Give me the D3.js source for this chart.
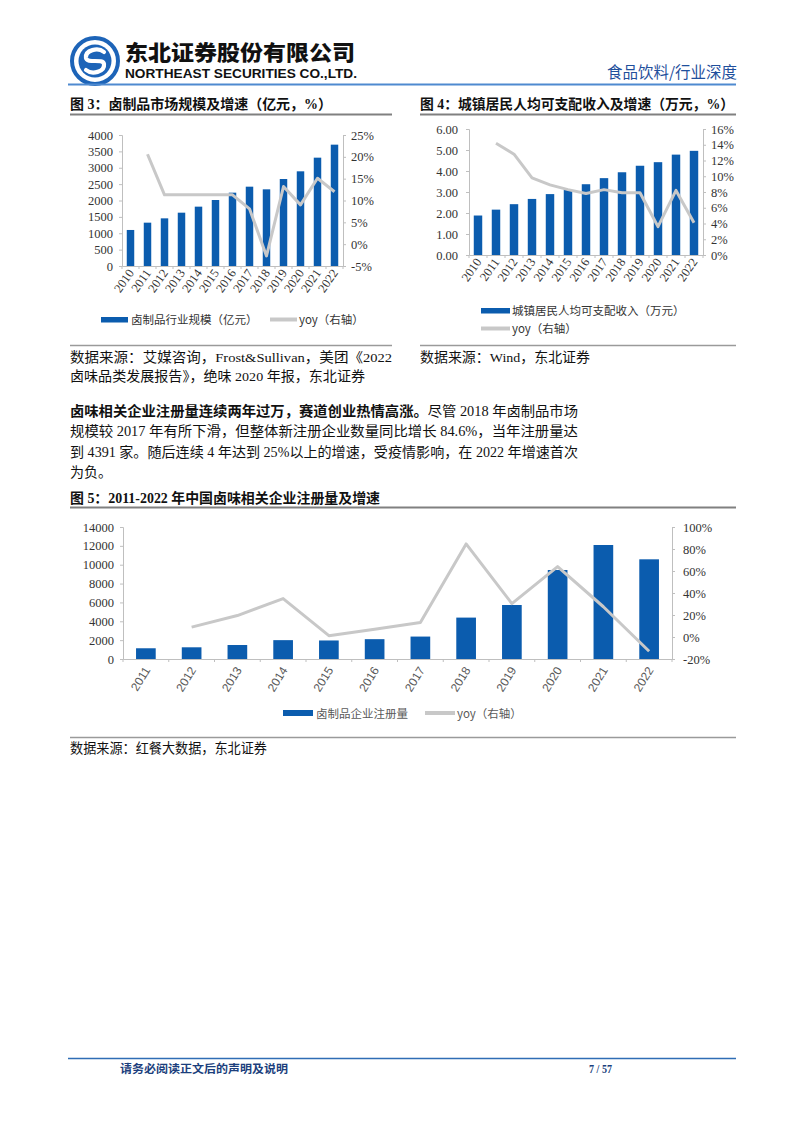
<!DOCTYPE html>
<html><head><meta charset="utf-8">
<script src="https://cdn.jsdelivr.net/npm/d3@7"></script>
<style>
html,body{margin:0;padding:0;background:#fff;}
svg{display:block;}
</style></head>
<body>
<svg id="page" width="802" height="1133"></svg>
<script>
// ---------- DATA ----------
const years3 = ["2010","2011","2012","2013","2014","2015","2016","2017","2018","2019","2020","2021","2022"];
const scale3 = [1100, 1323, 1455, 1628, 1812, 2015, 2239, 2422, 2341, 2656, 2891, 3308, 3705];
const yoy3 = [null, 20.6, 11.3, 11.3, 11.3, 11.3, 11.3, 8.1, -2.7, 13.2, 9.0, 15.1, 12.0];
const leftTicks3 = [0,500,1000,1500,2000,2500,3000,3500,4000];
const rightTicks3 = [-5,0,5,10,15,20,25];

const years4 = ["2010","2011","2012","2013","2014","2015","2016","2017","2018","2019","2020","2021","2022"];
const income4 = [1.88, 2.16, 2.42, 2.67, 2.90, 3.11, 3.37, 3.66, 3.94, 4.25, 4.42, 4.78, 4.96];
const yoy4 = [null, 14.2, 12.8, 9.8, 8.9, 8.3, 7.8, 8.3, 7.9, 7.9, 3.6, 8.2, 4.1];
const leftTicks4 = [0,1,2,3,4,5,6];
const rightTicks4 = [0,2,4,6,8,10,12,14,16];

const years5 = ["2011","2012","2013","2014","2015","2016","2017","2018","2019","2020","2021","2022"];
const reg5 = [1138, 1241, 1483, 2000, 1966, 2103, 2379, 4391, 5727, 9440, 12091, 10573];
const yoy5 = [null, 9.0, 19.5, 34.9, 1.2, 7.0, 13.1, 84.6, 30.4, 64.0, 27.5, -13.0];
const leftTicks5 = [0,2000,4000,6000,8000,10000,12000,14000];
const rightTicks5 = [-20,0,20,40,60,80,100];

// ---------- STYLE ----------
const BLUE = "#0b5cae";
const GRAY_LINE = "#c8c8c8";
const AXIS = "#bfbfbf";
const SERIF = "'Liberation Serif','Noto Sans CJK SC',serif";
const CJK = "'Noto Sans CJK SC','Liberation Serif',sans-serif";
const SANS = "'Liberation Sans','Noto Sans CJK SC',sans-serif";

const svg = d3.select("#page");

// ---------- HEADER ----------
const logo = svg.append("g").attr("transform","translate(95,61)");
logo.append("circle").attr("r",23).attr("fill","none").attr("stroke","#1d64b8").attr("stroke-width",4);
logo.append("circle").attr("r",16.5).attr("fill","#1d64b8");
logo.append("path")
  .attr("d","M9,-9 C3,-14 -10,-11 -9,-3 C-8,3 8,-3 9,3 C10,11 -3,14 -9,9")
  .attr("fill","none").attr("stroke","#fff").attr("stroke-width",4.2).attr("stroke-linecap","round");
svg.append("text").attr("x",125).attr("y",60).attr("font-family",CJK).attr("font-weight",900)
  .attr("font-size",21).attr("fill","#111").attr("textLength",230).attr("lengthAdjust","spacingAndGlyphs")
  .text("东北证券股份有限公司");
svg.append("text").attr("x",125).attr("y",78).attr("font-family",SANS).attr("font-weight",700)
  .attr("font-size",12).attr("fill","#111").attr("textLength",232).attr("lengthAdjust","spacingAndGlyphs")
  .text("NORTHEAST SECURITIES CO.,LTD.");
svg.append("text").attr("x",607).attr("y",78).attr("font-family",CJK).attr("font-size",15.5)
  .attr("fill","#1f4f9c").attr("textLength",130).attr("lengthAdjust","spacingAndGlyphs")
  .text("食品饮料/行业深度");
svg.append("line").attr("x1",68).attr("x2",736).attr("y1",84.5).attr("y2",84.5)
  .attr("stroke","#4f8ad0").attr("stroke-width",2);

// ---------- helpers ----------
function title(x, y, txt, w, lineX2, lineY){
  svg.append("text").attr("x",x).attr("y",y).attr("font-family",SERIF).attr("font-weight",700)
    .attr("font-size",14).attr("fill","#111").attr("textLength",w).attr("lengthAdjust","spacingAndGlyphs").text(txt);
  svg.append("line").attr("x1",x).attr("x2",lineX2).attr("y1",lineY).attr("y2",lineY)
    .attr("stroke","#808080").attr("stroke-width",2);
}
function sepLine(x1,x2,y){
  svg.append("line").attr("x1",x1).attr("x2",x2).attr("y1",y).attr("y2",y)
    .attr("stroke","#9a9a9a").attr("stroke-width",1.5);
}
function plainText(x,y,txt,size,w,opts={}){
  const t = svg.append("text").attr("x",x).attr("y",y).attr("font-family",opts.family||SERIF)
    .attr("font-size",size).attr("fill",opts.fill||"#111").text(txt);
  if (opts.weight) t.attr("font-weight",opts.weight);
  if (w) t.attr("textLength",w).attr("lengthAdjust","spacingAndGlyphs");
  return t;
}

function combo(cfg){
  const g = svg.append("g");
  const x = d3.scaleBand().domain(cfg.cats).range([cfg.x0, cfg.x1]).paddingInner(cfg.pad).paddingOuter(cfg.pad/2);
  const xb = d3.scaleBand().domain(cfg.cats).range([cfg.x0, cfg.x1]);
  const yL = d3.scaleLinear().domain(cfg.lDomain).range([cfg.y0, cfg.y1]);
  const yR = d3.scaleLinear().domain(cfg.rDomain).range([cfg.y0, cfg.y1]);

  g.selectAll("rect.bar").data(cfg.bars).join("rect").attr("class","bar")
    .attr("x",(d,i)=>x(cfg.cats[i])).attr("width",x.bandwidth())
    .attr("y",d=>yL(d)).attr("height",d=>yL(cfg.lDomain[0])-yL(d)).attr("fill",BLUE);

  const la = d3.axisLeft(yL).tickValues(cfg.lTicks).tickFormat(cfg.lFmt).tickSize(cfg.tickLen).tickPadding(cfg.lPad);
  const lg = g.append("g").attr("transform",`translate(${cfg.x0},0)`).call(la);
  const ra = d3.axisRight(yR).tickValues(cfg.rTicks).tickFormat(cfg.rFmt).tickSize(cfg.tickLen).tickPadding(cfg.rPad);
  const rg = g.append("g").attr("transform",`translate(${cfg.x1},0)`).call(ra);
  const xa = d3.axisBottom(xb).tickSize(0).tickFormat("");
  const xg = g.append("g").attr("transform",`translate(0,${cfg.y0})`).call(xa);
  [lg,rg,xg].forEach(a=>{
    a.select(".domain").attr("stroke",AXIS).attr("stroke-width",1);
    a.selectAll(".tick line").attr("stroke",AXIS);
    a.selectAll(".tick text").attr("font-family",SERIF).attr("font-size",cfg.fs).attr("fill","#333");
  });
  g.selectAll("line.xt").data(cfg.cats.concat(["__end"])).join("line").attr("class","xt")
    .attr("x1",(d,i)=> i<cfg.cats.length ? xb(d) : cfg.x1).attr("x2",(d,i)=> i<cfg.cats.length ? xb(d) : cfg.x1)
    .attr("y1",cfg.y0).attr("y2",cfg.y0+3).attr("stroke",AXIS);
  g.selectAll("text.xl").data(cfg.cats).join("text").attr("class","xl")
    .attr("transform",d=>`translate(${xb(d)+xb.bandwidth()/2+cfg.xlDx},${cfg.y0+cfg.xlDy}) rotate(${cfg.rot})`)
    .attr("text-anchor","end").attr("font-family",cfg.xlFamily).attr("font-size",cfg.xlFs)
    .attr("fill",cfg.xlFill).text(d=>d);

  const line = d3.line().defined(d=>d.v!==null)
    .x(d=>xb(d.c)+xb.bandwidth()/2).y(d=>yR(d.v));
  g.append("path").datum(cfg.line.map((v,i)=>({c:cfg.cats[i],v})))
    .attr("d",line).attr("fill","none").attr("stroke",GRAY_LINE).attr("stroke-width",3)
    .attr("stroke-linejoin","round");
  return g;
}

// ---------- FIGURE 3 ----------
title(70,109,"图 3：卤制品市场规模及增速（亿元，%）",262,392,114.5);
combo({cats:years3, bars:scale3, line:yoy3, x0:122, x1:343, y0:266, y1:135,
  lDomain:[0,4000], rDomain:[-5,25], lTicks:leftTicks3, rTicks:rightTicks3,
  lFmt:d=>d, rFmt:d=>d+"%", pad:0.56, tickLen:3, lPad:6, rPad:5, fs:12.5,
  rot:-55, xlDx:4, xlDy:7, xlFamily:SERIF, xlFs:12.5, xlFill:"#333"});
svg.append("rect").attr("x",101).attr("y",317).attr("width",27).attr("height",5.5).attr("fill",BLUE);
plainText(131,324,"卤制品行业规模（亿元）",11.5,null,{family:CJK,fill:"#333"});
svg.append("line").attr("x1",270).attr("x2",297).attr("y1",319.5).attr("y2",319.5).attr("stroke",GRAY_LINE).attr("stroke-width",4);
plainText(299,324,"yoy（右轴）",11.5,null,{family:CJK,fill:"#333"});

// ---------- FIGURE 4 ----------
title(420,109,"图 4：城镇居民人均可支配收入及增速（万元，%）",314,736,114.5);
combo({cats:years4, bars:income4, line:yoy4, x0:469, x1:703, y0:255, y1:129,
  lDomain:[0,6], rDomain:[0,16], lTicks:leftTicks4, rTicks:rightTicks4,
  lFmt:d=>d.toFixed(2), rFmt:d=>d+"%", pad:0.53, tickLen:3, lPad:8, rPad:5, fs:12.5,
  rot:-55, xlDx:4, xlDy:7, xlFamily:SERIF, xlFs:12.5, xlFill:"#333"});
svg.append("rect").attr("x",481).attr("y",308).attr("width",29).attr("height",5.5).attr("fill",BLUE);
plainText(512,315,"城镇居民人均可支配收入（万元）",11.5,null,{family:CJK,fill:"#333"});
svg.append("line").attr("x1",481).attr("x2",510).attr("y1",328.5).attr("y2",328.5).attr("stroke",GRAY_LINE).attr("stroke-width",4);
plainText(512,333,"yoy（右轴）",11.5,null,{family:CJK,fill:"#333"});

// ---------- SOURCES ----------
sepLine(70,392,345.5);
sepLine(420,736,345.5);
plainText(70,362,"数据来源：艾媒咨询，Frost&Sullivan，美团《2022",13.5,322);
plainText(70,381,"卤味品类发展报告》，绝味 2020 年报，东北证券",13.5,295);
plainText(420,362,"数据来源：Wind，东北证券",13.5,170);

// ---------- PARAGRAPH ----------
const p1 = svg.append("text").attr("x",70).attr("y",416).attr("font-family",SERIF).attr("font-size",14)
  .attr("fill","#111").attr("textLength",508).attr("lengthAdjust","spacingAndGlyphs");
p1.append("tspan").attr("font-weight",700).text("卤味相关企业注册量连续两年过万，赛道创业热情高涨。");
p1.append("tspan").text("尽管 2018 年卤制品市场");
plainText(70,436,"规模较 2017 年有所下滑，但整体新注册企业数量同比增长 84.6%，当年注册量达",14,508);
plainText(70,456.5,"到 4391 家。随后连续 4 年达到 25%以上的增速，受疫情影响，在 2022 年增速首次",14,508);
plainText(70,477,"为负。",14,42);

// ---------- FIGURE 5 ----------
title(70,503,"图 5：2011-2022 年中国卤味相关企业注册量及增速",310,736,507.5);
combo({cats:years5, bars:reg5, line:yoy5, x0:123, x1:672, y0:659, y1:527,
  lDomain:[0,14000], rDomain:[-20,100], lTicks:leftTicks5, rTicks:rightTicks5,
  lFmt:d=>d, rFmt:d=>d+"%", pad:0.57, tickLen:3, lPad:6, rPad:8, fs:12.5,
  rot:-58, xlDx:5, xlDy:11, xlFamily:SANS, xlFs:12, xlFill:"#595959"});
svg.append("rect").attr("x",283).attr("y",710).attr("width",30).attr("height",6).attr("fill",BLUE);
plainText(316,717.5,"卤制品企业注册量",11.5,null,{family:CJK,fill:"#595959"});
svg.append("line").attr("x1",425).attr("x2",455).attr("y1",713).attr("y2",713).attr("stroke",GRAY_LINE).attr("stroke-width",4);
plainText(457,717.5,"yoy（右轴）",11.5,null,{family:CJK,fill:"#595959"});
sepLine(70,736,737.5);
plainText(70,753,"数据来源：红餐大数据，东北证券",13.5,197);

// ---------- FOOTER ----------
svg.append("line").attr("x1",68).attr("x2",736).attr("y1",1058.5).attr("y2",1058.5)
  .attr("stroke","#2f6db5").attr("stroke-width",1.5);
plainText(120,1073,"请务必阅读正文后的声明及说明",11.5,168,{weight:700,fill:"#1c3f7d"});
plainText(589,1073,"7 / 57",12,23,{weight:700,fill:"#1c3f7d"});
</script>
</body></html>
